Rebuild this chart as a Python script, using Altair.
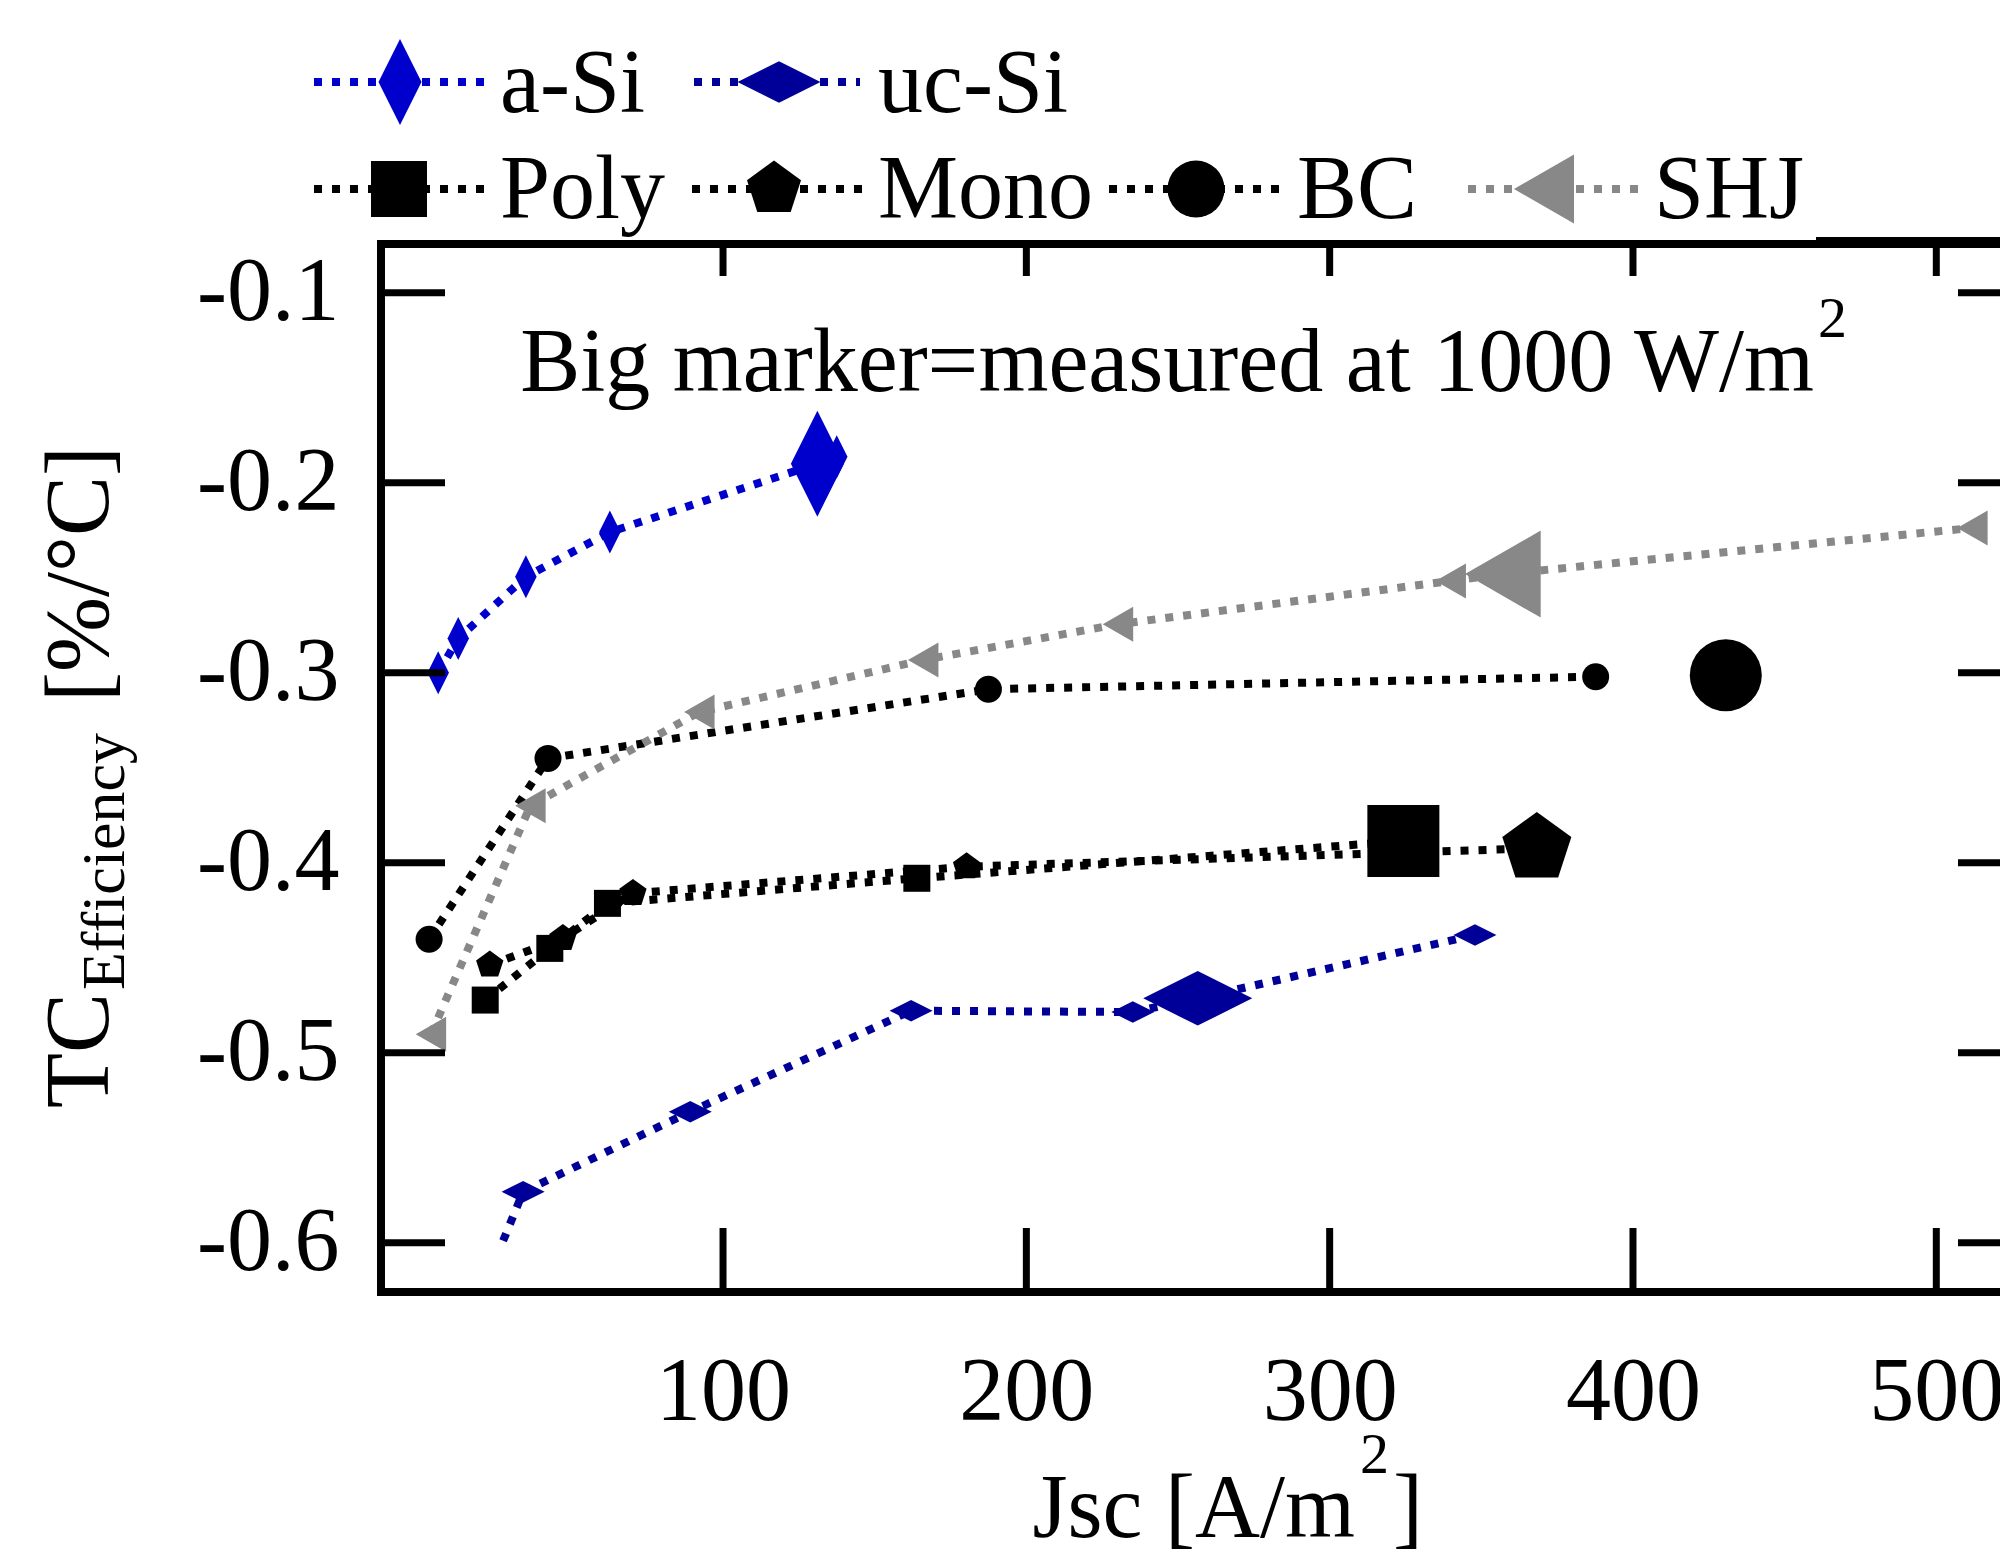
import altair as alt
import pandas as pd

# ---------------- data ----------------
names = ["a-Si", "uc-Si", "Poly", "Mono", "BC", "SHJ"]
colors = ["#0000cc", "#000099", "#000000", "#000000", "#000000", "#888888"]

asi_x = [6.1, 12.7, 35.0, 62.7, 131.1, 137.5]
asi_y = [-0.300, -0.282, -0.2495, -0.226, -0.190, -0.1863]
ucsi_x = [27.5, 34.1, 89.2, 162.0, 235.1, 256.5, 347.9]
ucsi_y = [-0.599, -0.5732, -0.5311, -0.4779, -0.4786, -0.4714, -0.4381]
poly_x = [21.6, 42.9, 61.9, 163.9, 324.3]
poly_y = [-0.4723, -0.4451, -0.4214, -0.4082, -0.3886]
mono_x = [23.1, 47.2, 70.3, 180.3, 368.3]
mono_y = [-0.4538, -0.4398, -0.4161, -0.4021, -0.3924]
bc_x = [3.1, 42.3, 187.5, 387.7]
bc_y = [-0.4403, -0.3451, -0.3087, -0.3021]
shj_x = [3.7, 36.5, 92.2, 166.0, 230.2, 339.9, 357.1, 511.9]
shj_y = [-0.4903, -0.370, -0.3207, -0.2933, -0.2745, -0.2517, -0.2481, -0.2238]

# indices of line points that carry a small marker
asi_marked = [0, 1, 2, 3, 5]
ucsi_marked = [1, 2, 3, 4, 6]
poly_marked = [0, 1, 2, 3]
mono_marked = [0, 1, 2, 3]
bc_marked = [0, 1, 2, 3]
shj_marked = [0, 1, 2, 3, 4, 5, 7]

# big markers = measured at 1000 W/m2 (same order as names)
big_x = [131.1, 256.5, 324.3, 368.3, 430.6, 357.1]
big_y = [-0.190, -0.4714, -0.3886, -0.3924, -0.3013, -0.2481]

x_ticks = [100, 200, 300, 400, 500]
y_ticks = [-0.1, -0.2, -0.3, -0.4, -0.5, -0.6]

# ---------------- styles / layout ----------------
FONT = "Liberation Serif"
FS = 90
W, H = 1619, 1048
XDOM = [-12.76, 521.0]
YDOM = [-0.62595, -0.07437]

paths = {
    "a-Si": "M0,-1L0.5,0L0,1L-0.5,0Z",
    "uc-Si": "M-1,0L0,-0.5L1,0L0,0.5Z",
    "Poly": "M-1,-1L1,-1L1,1L-1,1Z",
    "Mono": "M0,-1L0.951,-0.309L0.588,0.809L-0.588,0.809L-0.951,-0.309Z",
    "BC": "circle",
    "SHJ": "M-0.87,0L0.87,-1L0.87,1Z",
}
size_small = {"a-Si": 1849, "uc-Si": 1849, "Poly": 729, "Mono": 826, "BC": 729, "SHJ": 1225}
size_big = {"a-Si": 11236, "uc-Si": 11881, "Poly": 5184, "Mono": 5270, "BC": 5184, "SHJ": 7569}
size_leg = {"a-Si": 7396, "uc-Si": 6889, "Poly": 3136, "Mono": 3226, "BC": 3249, "SHJ": 4761}

series = {
    "a-Si": (asi_x, asi_y, asi_marked),
    "uc-Si": (ucsi_x, ucsi_y, ucsi_marked),
    "Poly": (poly_x, poly_y, poly_marked),
    "Mono": (mono_x, mono_y, mono_marked),
    "BC": (bc_x, bc_y, bc_marked),
    "SHJ": (shj_x, shj_y, shj_marked),
}

line_rows, pt_rows = [], []
for n, (xs_, ys_, mk) in series.items():
    for i, (a, b) in enumerate(zip(xs_, ys_)):
        line_rows.append({"series": n, "idx": i, "x": a, "y": b})
    for i in mk:
        pt_rows.append({"series": n, "x": xs_[i], "y": ys_[i], "sz": size_small[n]})
for n, a, b in zip(names, big_x, big_y):
    pt_rows.append({"series": n, "x": a, "y": b, "sz": size_big[n]})
lines_df = pd.DataFrame(line_rows)
pts_df = pd.DataFrame(pt_rows)

xs = alt.Scale(domain=XDOM, nice=False, zero=False)
ys = alt.Scale(domain=YDOM, nice=False, zero=False)
x_axis = alt.Axis(values=x_ticks, ticks=False, domain=False, grid=False, title=None,
                  labelFont=FONT, labelFontSize=FS, labelColor="black", labelPadding=127,
                  labelBaseline="alphabetic", labelFlush=False, labelOverlap=False, format="d")
y_axis = alt.Axis(values=y_ticks, ticks=False, domain=False, grid=False, title=None,
                  labelFont=FONT, labelFontSize=FS, labelColor="black", labelPadding=42,
                  labelFlush=False, labelOverlap=False,
                  labelExpr="'-' + format(abs(datum.value), '.1f')")
color = alt.Color("series:N", scale=alt.Scale(domain=names, range=colors), legend=None)
shape = alt.Shape("series:N", scale=alt.Scale(domain=names, range=[paths[n] for n in names]), legend=None)

dummy = pd.DataFrame({"d": [0]})
layers = []

# dotted series lines
layers.append(
    alt.Chart(lines_df).mark_line(strokeDash=[8, 10], strokeWidth=8, strokeCap="butt").encode(
        x=alt.X("x:Q", scale=xs, axis=x_axis),
        y=alt.Y("y:Q", scale=ys, axis=y_axis),
        color=color, detail="series:N", order="idx:Q")
)
# markers
layers.append(
    alt.Chart(pts_df).mark_point(filled=True, opacity=1, strokeWidth=0).encode(
        x=alt.X("x:Q", scale=xs, axis=x_axis),
        y=alt.Y("y:Q", scale=ys, axis=y_axis),
        color=color, shape=shape,
        size=alt.Size("sz:Q", scale=None, legend=None))
)

# frame
SPW = 8
def hrule(y, x1, x2, w):
    return alt.Chart(dummy).mark_rule(color="black", strokeWidth=w, strokeCap="butt").encode(
        y=alt.value(y), x=alt.value(x1), x2=alt.value(x2))
def vrule(x, y1, y2, w):
    return alt.Chart(dummy).mark_rule(color="black", strokeWidth=w, strokeCap="butt").encode(
        x=alt.value(x), y=alt.value(y1), y2=alt.value(y2))

layers.append(vrule(0, -SPW / 2, H + SPW / 2, SPW))
layers.append(hrule(H, -SPW / 2, W, SPW))
layers.append(hrule(0, -SPW / 2, W, SPW))
layers.append(hrule(-3, W - 184, W, 8))

# inward ticks
xt = pd.DataFrame({"v": x_ticks})
yt = pd.DataFrame({"v": y_ticks})
layers.append(alt.Chart(xt).mark_rule(color="black", strokeWidth=7, strokeCap="butt").encode(
    x=alt.X("v:Q", scale=xs, axis=x_axis), y=alt.value(H), y2=alt.value(H - 64)))
layers.append(alt.Chart(xt).mark_rule(color="black", strokeWidth=7, strokeCap="butt").encode(
    x=alt.X("v:Q", scale=xs, axis=x_axis), y=alt.value(0), y2=alt.value(32)))
layers.append(alt.Chart(yt).mark_rule(color="black", strokeWidth=7, strokeCap="butt").encode(
    y=alt.Y("v:Q", scale=ys, axis=y_axis), x=alt.value(0), x2=alt.value(64)))
layers.append(alt.Chart(yt).mark_rule(color="black", strokeWidth=7, strokeCap="butt").encode(
    y=alt.Y("v:Q", scale=ys, axis=y_axis), x=alt.value(W - 42), x2=alt.value(W)))

# manual legend (two rows, positions relative to plot origin)
leg_layout = {
    # name: (line x1, line x2, marker x, row center y, text x, text baseline)
    "a-Si": (-67, 103, 19, -162, 119, -132),
    "uc-Si": (313, 479, 398, -162, 497, -132),
    "Poly": (-67, 104, 18, -55, 119, -26),
    "Mono": (311, 481, 393, -55, 497, -26),
    "BC": (728, 898, 815, -55, 916, -26),
    "SHJ": (1087, 1257, 1163, -55, 1273, -26),
}
for n, c in zip(names, colors):
    x1, x2, mx, cy, tx, tb = leg_layout[n]
    layers.append(alt.Chart(dummy).mark_rule(color=c, strokeWidth=8, strokeDash=[8, 10], strokeCap="butt").encode(
        x=alt.value(x1), x2=alt.value(x2), y=alt.value(cy)))
    layers.append(alt.Chart(dummy).mark_point(filled=True, opacity=1, strokeWidth=0, color=c,
                                              shape=paths[n], size=size_leg[n]).encode(
        x=alt.value(mx), y=alt.value(cy)))
    layers.append(alt.Chart(dummy).mark_text(text=n, font=FONT, fontSize=FS, color="black",
                                             align="left", baseline="alphabetic").encode(
        x=alt.value(tx), y=alt.value(tb)))

def txt(t, x, y, fs=FS, align="left", angle=0):
    kw = dict(text=t, font=FONT, fontSize=fs, color="black", align=align, baseline="alphabetic")
    if angle:
        kw["angle"] = angle
    return alt.Chart(dummy).mark_text(**kw).encode(x=alt.value(x), y=alt.value(y))

# annotation
layers.append(txt("Big marker=measured at 1000 W/m", 1433, 147, align="right"))
layers.append(txt("2", 1437, 93, fs=58))
# x title
layers.append(txt("Jsc [A/m", 974, 1293, align="right"))
layers.append(txt("2", 979, 1229, fs=58))
layers.append(txt("]", 1012, 1293))
# y title (rotated)
layers.append(txt("TC", -273, 864, angle=270))
layers.append(txt("Efficiency", -257, 746, fs=62, angle=270))
layers.append(txt("[%/°C]", -273, 458, angle=270))

chart = alt.layer(*layers).properties(
    width=W, height=H,
    autosize=alt.AutoSizeParams(type="none"),
    padding={"left": 373, "top": 236, "right": 0, "bottom": 258},
).configure_view(stroke=None).configure(background="white")

chart.save("out.html", embed_options={"renderer": "svg", "actions": False})
